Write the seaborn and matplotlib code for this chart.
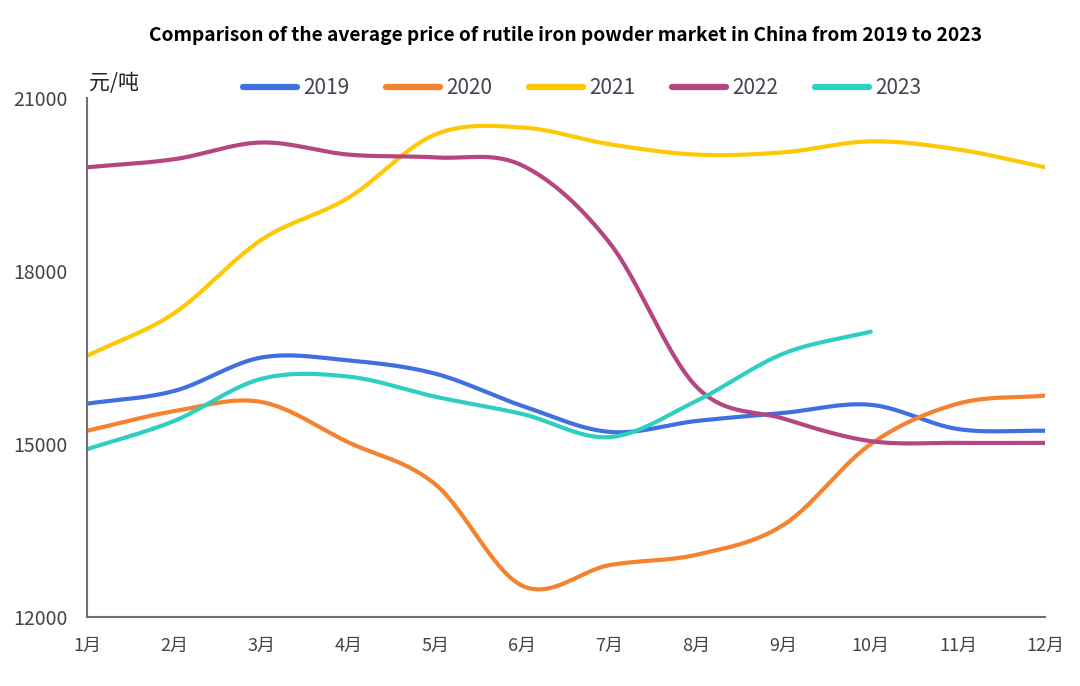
"""
Average price of rutile iron powder in China, 2019-2023
"""

import numpy as np
import pandas as pd
import matplotlib
matplotlib.use("Agg")
import matplotlib.pyplot as plt
import seaborn as sns

months = ["1月", "2月", "3月", "4月", "5月", "6月",
          "7月", "8月", "9月", "10月", "11月", "12月"]

price_2019 = [15700, 15920, 16500, 16450, 16220, 15660, 15210, 15400, 15540, 15680, 15260, 15230]
price_2020 = [15230, 15570, 15730, 15030, 14300, 12540, 12900, 13080, 13600, 15000, 15700, 15840]
price_2021 = [16530, 17270, 18540, 19270, 20370, 20490, 20200, 20020, 20060, 20250, 20110, 19800]
price_2022 = [19800, 19940, 20230, 20020, 19970, 19830, 18490, 15990, 15440, 15050, 15020, 15020]
price_2023 = [14910, 15400, 16130, 16170, 15820, 15520, 15120, 15750, 16570, 16950]

years = ["2019", "2020", "2021", "2022", "2023"]
series = [price_2019, price_2020, price_2021, price_2022, price_2023]
colors = ["#3F6FE0", "#F5822E", "#FFC805", "#B5467F", "#2ECFC0"]


def smooth(values, n=30):
    """Catmull-Rom style cubic through the monthly points"""
    y = np.asarray(values, dtype=float)
    x = np.arange(len(y), dtype=float)
    m = np.gradient(y)
    xs, ys = [], []
    for i in range(len(y) - 1):
        t = np.linspace(0, 1, n, endpoint=False)
        h00 = 2 * t**3 - 3 * t**2 + 1
        h10 = t**3 - 2 * t**2 + t
        h01 = -2 * t**3 + 3 * t**2
        h11 = t**3 - t**2
        xs.append(x[i] + t)
        ys.append(h00 * y[i] + h10 * m[i] + h01 * y[i + 1] + h11 * m[i + 1])
    xs.append([x[-1]])
    ys.append([y[-1]])
    return np.concatenate(xs), np.concatenate(ys)


frames = []
for year, vals in zip(years, series):
    xs, ys = smooth(vals)
    frames.append(pd.DataFrame({"month": xs, "price": ys, "year": year}))
df = pd.concat(frames, ignore_index=True)

sns.set_style("white")
plt.rcParams['font.family'] = ['Noto Sans CJK SC', 'DejaVu Sans']

fig = plt.figure(figsize=(10.8, 6.86), dpi=100)
ax = fig.add_axes([0.0806, 0.1006, 0.887, 0.7564])

sns.lineplot(data=df, x="month", y="price", hue="year",
             palette=dict(zip(years, colors)), linewidth=3.0,
             sort=False, estimator=None, ax=ax)

ax.set_xlim(0, 11)
ax.set_ylim(12000, 21000)
ax.set_yticks([12000, 15000, 18000, 21000])
ax.set_xticks(range(12))
ax.set_xticklabels(months)
ax.set_xlabel("")
ax.set_ylabel("")

for side in ["top", "right"]:
    ax.spines[side].set_visible(False)
for side in ["left", "bottom"]:
    ax.spines[side].set_color("#707078")
    ax.spines[side].set_linewidth(1.5)

ax.tick_params(axis="x", direction="in", length=6, width=1.3, color="#707078",
               labelsize=13, labelcolor="#444444", pad=14)
ax.tick_params(axis="y", length=0, labelsize=14, labelcolor="#444444", pad=14)

ax.text(0.002, 1.008, "元/吨", transform=ax.transAxes, fontsize=15,
        color="#222222", ha="left", va="bottom")

handles, labels = ax.get_legend_handles_labels()
leg = ax.legend(handles, labels, loc="lower center", bbox_to_anchor=(0.517, 0.962),
                ncol=5, frameon=False, fontsize=15, handlelength=2.6,
                columnspacing=1.75, handletextpad=0.3)
for line in leg.get_lines():
    line.set_linewidth(4.5)
    line.set_solid_capstyle("round")
for text in leg.get_texts():
    text.set_color("#444450")

fig.text(0.524, 0.948, "Comparison of the average price of rutile iron powder market in China from 2019 to 2023",
         ha="center", va="center", fontsize=13.8, fontweight="bold", color="black")

fig.savefig("out.png", dpi=100)
